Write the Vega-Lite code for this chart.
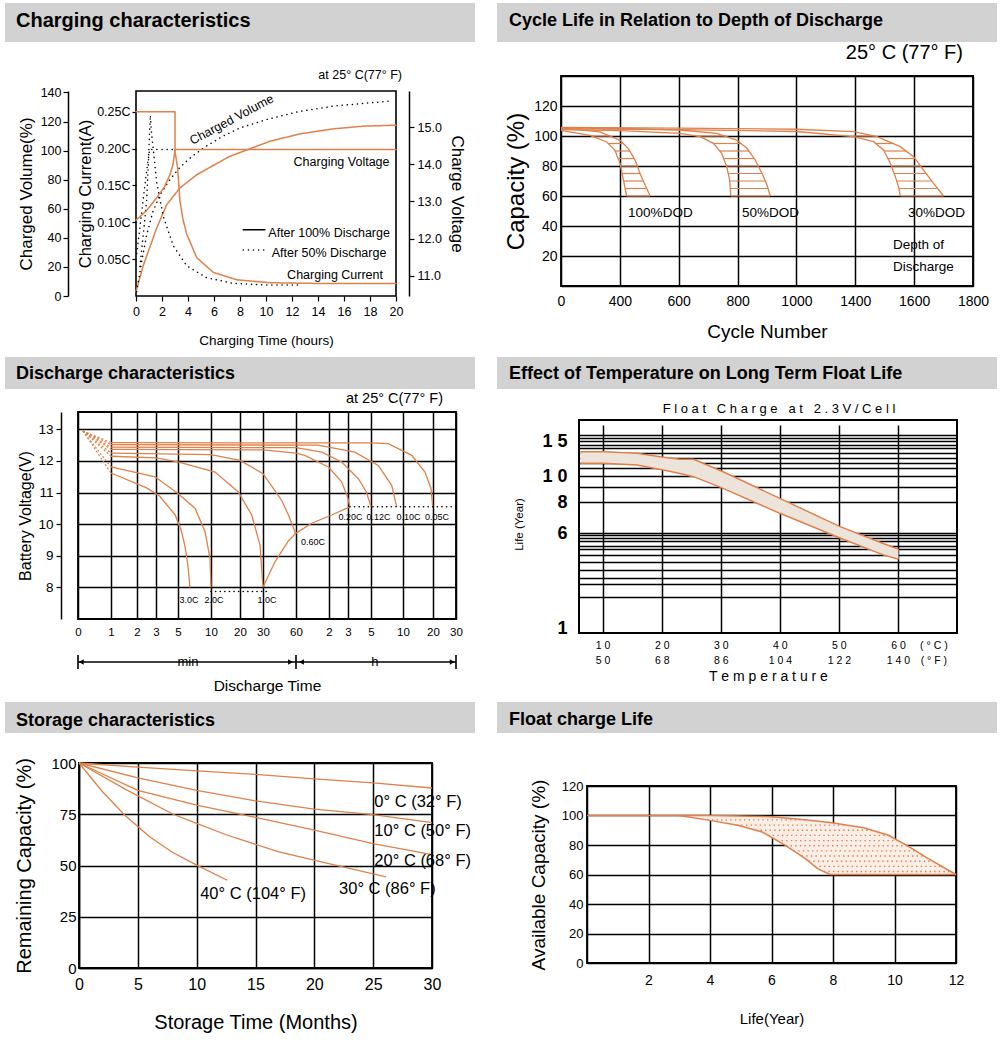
{
 "$schema": "https://vega.github.io/schema/vega-lite/v6.json",
 "padding": {"left": 5, "top": 3, "right": 0, "bottom": 0},
 "background": "#ffffff",
 "config": {
  "font": "Liberation Sans",
  "view": {"stroke": null},
  "axis": {"labelColor": "#000", "titleColor": "#000", "domainColor": "#000", "tickColor": "#000", "gridColor": "#000", "titleFontWeight": "normal", "gridWidth": 1.5, "domainWidth": 1.5, "tickWidth": 1.2, "labelFlush": false, "labelOverlap": false},
  "title": {"color": "#000", "fontWeight": "normal"},
  "text": {"color": "#000"}
 },
 "spacing": 0,
 "vconcat": [
  {"hconcat": [
   {"vconcat": [
    {"width": 470, "height": 39, "data": {"values": []}, "mark": "point", "view": {"fill": "#d2d2d2", "stroke": null},
     "title": {"text": "Charging characteristics", "anchor": "start", "frame": "group", "baseline": "alphabetic", "offset": -44, "dx": 11, "fontSize": 20, "fontWeight": "bold"}},
    {"hconcat": [
     {"width": 131, "height": 266, "data": {"values": []}, "mark": "point"},
     {"width": 260, "height": 205,
      "view": {"stroke": "#000", "strokeWidth": 1.6},
      "title": {"text": "at 25° C(77° F)", "anchor": "end", "frame": "group", "fontSize": 12.5, "baseline": "alphabetic", "offset": -5, "dx": 6},
      "resolve": {"scale": {"y": "independent"}, "axis": {"y": "independent"}},
      "encoding": {
       "x": {"field": "t", "type": "quantitative", "title": "Charging Time (hours)", "scale": {"domain": [0, 20], "nice": false}, "axis": {"values": [0, 2, 4, 6, 8, 10, 12, 14, 16, 18, 20], "labelOverlap": false, "grid": false, "domain": false, "tickSize": 5, "labelFontSize": 12.5, "labelPadding": 4, "titleFontSize": 13.5, "titlePadding": 16}}
      },
      "layer": [
       {"data": {"values": [
         {"d": "100%", "t": 0, "vol": 3}, {"d": "100%", "t": 0.56, "vol": 21}, {"d": "100%", "t": 1.59, "vol": 46.7}, {"d": "100%", "t": 2.36, "vol": 62.8}, {"d": "100%", "t": 3.38, "vol": 74.3}, {"d": "100%", "t": 4.67, "vol": 83.4}, {"d": "100%", "t": 7.2, "vol": 96}, {"d": "100%", "t": 10.3, "vol": 106.4}, {"d": "100%", "t": 12.6, "vol": 111.5}, {"d": "100%", "t": 15.2, "vol": 115}, {"d": "100%", "t": 17.5, "vol": 116.8}, {"d": "100%", "t": 20, "vol": 117.5},
         {"d": "50%", "t": 0.05, "vol": 3}, {"d": "50%", "t": 0.4, "vol": 22}, {"d": "50%", "t": 0.82, "vol": 42}, {"d": "50%", "t": 1.3, "vol": 58}, {"d": "50%", "t": 1.85, "vol": 69.7}, {"d": "50%", "t": 2.6, "vol": 80}, {"d": "50%", "t": 3.4, "vol": 88.7}, {"d": "50%", "t": 4.3, "vol": 96}, {"d": "50%", "t": 5.4, "vol": 103}, {"d": "50%", "t": 6.7, "vol": 110}, {"d": "50%", "t": 8, "vol": 115.6}, {"d": "50%", "t": 10.05, "vol": 121.4}, {"d": "50%", "t": 12.6, "vol": 127}, {"d": "50%", "t": 15.2, "vol": 130.6}, {"d": "50%", "t": 17.5, "vol": 132.5}, {"d": "50%", "t": 19.5, "vol": 134}]},
        "mark": {"type": "line", "strokeWidth": 1.5, "strokeCap": "round"},
        "encoding": {
         "y": {"field": "vol", "type": "quantitative", "title": "Charged Volume(%)", "scale": {"domain": [0, 141], "nice": false}, "axis": {"orient": "left", "offset": 68, "values": [0, 20, 40, 60, 80, 100, 120, 140], "labelOverlap": false, "grid": false, "tickSize": 5, "labelFontSize": 12.5, "labelPadding": 2, "titleFontSize": 17, "titlePadding": 5}},
         "color": {"field": "d", "type": "nominal", "scale": {"domain": ["100%", "50%"], "range": ["#e0804a", "#000000"]}, "legend": null},
         "strokeDash": {"field": "d", "type": "nominal", "scale": {"domain": ["100%", "50%"], "range": [[1, 0], [0.1, 5]]}, "legend": null},
         "order": {"value": null}}},
       {"data": {"values": [
         {"d": "100%", "t": 0, "cur": 0.25}, {"d": "100%", "t": 3, "cur": 0.25}, {"d": "100%", "t": 3, "cur": 0.196}, {"d": "100%", "t": 3.2, "cur": 0.174}, {"d": "100%", "t": 3.38, "cur": 0.129}, {"d": "100%", "t": 3.6, "cur": 0.105}, {"d": "100%", "t": 3.9, "cur": 0.084}, {"d": "100%", "t": 4.67, "cur": 0.052}, {"d": "100%", "t": 5.95, "cur": 0.032}, {"d": "100%", "t": 7.75, "cur": 0.022}, {"d": "100%", "t": 10.3, "cur": 0.018}, {"d": "100%", "t": 14, "cur": 0.017}, {"d": "100%", "t": 20, "cur": 0.017},
         {"d": "50%", "t": 0.3, "cur": 0.04}, {"d": "50%", "t": 0.6, "cur": 0.09}, {"d": "50%", "t": 0.82, "cur": 0.13}, {"d": "50%", "t": 0.95, "cur": 0.18}, {"d": "50%", "t": 1.1, "cur": 0.245}, {"d": "50%", "t": 1.2, "cur": 0.22}, {"d": "50%", "t": 1.33, "cur": 0.199}, {"d": "50%", "t": 1.59, "cur": 0.154}, {"d": "50%", "t": 2.1, "cur": 0.108}, {"d": "50%", "t": 2.87, "cur": 0.068}, {"d": "50%", "t": 3.9, "cur": 0.041}, {"d": "50%", "t": 5.4, "cur": 0.025}, {"d": "50%", "t": 7.5, "cur": 0.017}, {"d": "50%", "t": 10, "cur": 0.015}, {"d": "50%", "t": 12.6, "cur": 0.015}]},
        "mark": {"type": "line", "strokeWidth": 1.5, "strokeCap": "round"},
        "encoding": {
         "y": {"field": "cur", "type": "quantitative", "title": "Charging Current(A)", "scale": {"domain": [0, 0.278], "nice": false}, "axis": {"orient": "left", "offset": 0, "values": [0.05, 0.1, 0.15, 0.2, 0.25], "labelOverlap": false, "labelExpr": "format(datum.value, '.2f') + 'C'", "grid": false, "domain": false, "tickSize": 4, "labelFontSize": 12.5, "labelPadding": 2, "titleFontSize": 16.5, "titlePadding": 3}},
         "color": {"field": "d", "type": "nominal", "legend": null},
         "strokeDash": {"field": "d", "type": "nominal", "legend": null},
         "order": {"value": null}}},
       {"data": {"values": [
         {"d": "100%", "t": 0, "volt": 12.5}, {"d": "100%", "t": 0.8, "volt": 12.75}, {"d": "100%", "t": 1.59, "volt": 13.1}, {"d": "100%", "t": 2.2, "volt": 13.4}, {"d": "100%", "t": 2.62, "volt": 13.73}, {"d": "100%", "t": 2.85, "volt": 14.0}, {"d": "100%", "t": 3, "volt": 14.4}, {"d": "100%", "t": 20, "volt": 14.4},
         {"d": "50%", "t": 0.05, "volt": 11.6}, {"d": "50%", "t": 0.3, "volt": 12.3}, {"d": "50%", "t": 0.6, "volt": 13.2}, {"d": "50%", "t": 0.85, "volt": 13.9}, {"d": "50%", "t": 1.05, "volt": 14.4}, {"d": "50%", "t": 3, "volt": 14.4}]},
        "mark": {"type": "line", "strokeWidth": 1.5, "strokeCap": "round"},
        "encoding": {
         "y": {"field": "volt", "type": "quantitative", "title": "Charge Voltage", "scale": {"domain": [10.46, 15.97], "nice": false, "zero": false}, "axis": {"orient": "right", "offset": 13, "values": [11, 12, 13, 14, 15], "labelOverlap": false, "format": ".1f", "grid": false, "tickSize": 5, "labelFontSize": 12.5, "labelPadding": 3, "titleFontSize": 17, "titlePadding": 6}},
         "color": {"field": "d", "type": "nominal", "legend": null},
         "strokeDash": {"field": "d", "type": "nominal", "legend": null},
         "order": {"value": null}}},
       {"data": {"values": [{"d": "100%", "t": 8.25, "t2": 9.92, "vol": 45.5}, {"d": "50%", "t": 8.25, "t2": 9.92, "vol": 31.7}]},
        "mark": {"type": "rule", "color": "#000", "strokeWidth": 1.5, "strokeCap": "round"},
        "encoding": {
         "x2": {"field": "t2"},
         "y": {"field": "vol", "type": "quantitative", "scale": {"domain": [0, 141], "nice": false}, "axis": null},
         "strokeDash": {"field": "d", "type": "nominal", "legend": null}}},
       {"data": {"values": [{"s": "After 100% Discharge", "t": 10.18, "vol": 43.4}, {"s": "After 50% Discharge", "t": 10.44, "vol": 29.4}]},
        "mark": {"type": "text", "align": "left", "baseline": "middle", "fontSize": 12.5},
        "encoding": {"y": {"field": "vol", "type": "quantitative", "scale": {"domain": [0, 141], "nice": false}, "axis": null}, "text": {"field": "s"}}},
       {"data": {"values": [{"s": "Charging Voltage", "t": 19.5, "vol": 92.4}, {"s": "Charging Current", "t": 19.0, "vol": 14.5}]},
        "mark": {"type": "text", "align": "right", "baseline": "middle", "fontSize": 12.5},
        "encoding": {"y": {"field": "vol", "type": "quantitative", "scale": {"domain": [0, 141], "nice": false}, "axis": null}, "text": {"field": "s"}}},
       {"data": {"values": [{"s": "Charged Volume", "t": 7.36, "vol": 121.4}]},
        "mark": {"type": "text", "align": "center", "baseline": "middle", "fontSize": 12.5, "angle": -28},
        "encoding": {"y": {"field": "vol", "type": "quantitative", "scale": {"domain": [0, 141], "nice": false}, "axis": null}, "text": {"field": "s"}}}
      ]}
    ], "spacing": 0, "bounds": "flush"}
   ], "spacing": 49, "bounds": "flush"},
   {"vconcat": [
    {"width": 500, "height": 39, "data": {"values": []}, "mark": "point", "view": {"fill": "#d2d2d2", "stroke": null},
     "title": {"text": "Cycle Life in Relation to Depth of Discharge", "anchor": "start", "frame": "group", "baseline": "alphabetic", "offset": -41, "dx": 12, "fontSize": 18, "fontWeight": "bold"}},
    {"hconcat": [
     {"width": 64, "height": 10, "data": {"values": []}, "mark": "point"},
     {"width": 412, "height": 210,
      "view": {"stroke": "#000", "strokeWidth": 1.8},
      "title": {"text": "25° C (77° F)", "anchor": "end", "frame": "group", "fontSize": 20, "baseline": "alphabetic", "offset": -10, "dx": -10},
      "encoding": {
       "x": {"field": "n", "type": "quantitative", "title": "Cycle Number", "scale": {"type": "linear", "domain": [0, 400, 600, 800, 1000, 1400, 1600, 1800], "range": [0, 58.86, 117.71, 176.57, 235.43, 294.29, 353.14, 412], "nice": false, "zero": false}, "axis": {"values": [0, 400, 600, 800, 1000, 1400, 1600, 1800], "format": "d", "labelOverlap": false, "grid": true, "domain": false, "ticks": false, "labelFontSize": 14, "labelPadding": 8, "titleFontSize": 19, "titlePadding": 14}},
       "y": {"field": "cap", "type": "quantitative", "title": "Capacity  (%)", "scale": {"domain": [0, 140], "nice": false}, "axis": {"values": [0, 20, 40, 60, 80, 100, 120, 140], "labelOverlap": false, "labelExpr": "datum.value == 0 || datum.value == 140 ? '' : datum.label", "grid": true, "domain": false, "ticks": false, "labelFontSize": 14, "labelPadding": 4, "titleFontSize": 24, "titlePadding": 5}}
      },
      "layer": [
       {"data": {"values": [
         {"k": "1L", "n": 0, "cap": 103.8}, {"k": "1L", "n": 197, "cap": 100.4}, {"k": "1L", "n": 311, "cap": 96}, {"k": "1L", "n": 367, "cap": 90.4}, {"k": "1L", "n": 401, "cap": 81.6}, {"k": "1L", "n": 410, "cap": 72.7}, {"k": "1L", "n": 418, "cap": 65}, {"k": "1L", "n": 423, "cap": 60},
         {"k": "1R", "n": 0, "cap": 105.3}, {"k": "1R", "n": 265, "cap": 102.7}, {"k": "1R", "n": 401, "cap": 97.1}, {"k": "1R", "n": 429, "cap": 91.6}, {"k": "1R", "n": 452, "cap": 83.8}, {"k": "1R", "n": 469, "cap": 74.9}, {"k": "1R", "n": 486, "cap": 67.1}, {"k": "1R", "n": 503, "cap": 60},
         {"k": "2L", "n": 0, "cap": 104.3}, {"k": "2L", "n": 400, "cap": 103.6}, {"k": "2L", "n": 605, "cap": 101.8}, {"k": "2L", "n": 673, "cap": 99.6}, {"k": "2L", "n": 718, "cap": 95.1}, {"k": "2L", "n": 746, "cap": 88.4}, {"k": "2L", "n": 763, "cap": 79.6}, {"k": "2L", "n": 773, "cap": 70.7}, {"k": "2L", "n": 777, "cap": 60},
         {"k": "2R", "n": 0, "cap": 105.5}, {"k": "2R", "n": 400, "cap": 105}, {"k": "2R", "n": 605, "cap": 104}, {"k": "2R", "n": 729, "cap": 101.8}, {"k": "2R", "n": 797, "cap": 97.3}, {"k": "2R", "n": 832, "cap": 91.8}, {"k": "2R", "n": 860, "cap": 84}, {"k": "2R", "n": 883, "cap": 75.1}, {"k": "2R", "n": 900, "cap": 67.3}, {"k": "2R", "n": 911, "cap": 60},
         {"k": "3L", "n": 0, "cap": 104.8}, {"k": "3L", "n": 600, "cap": 104.3}, {"k": "3L", "n": 1000, "cap": 103}, {"k": "3L", "n": 1389, "cap": 99.6}, {"k": "3L", "n": 1462, "cap": 96.2}, {"k": "3L", "n": 1496, "cap": 90.7}, {"k": "3L", "n": 1519, "cap": 81.8}, {"k": "3L", "n": 1536, "cap": 72.9}, {"k": "3L", "n": 1547, "cap": 66.2}, {"k": "3L", "n": 1553, "cap": 60},
         {"k": "3R", "n": 0, "cap": 105.8}, {"k": "3R", "n": 600, "cap": 105.3}, {"k": "3R", "n": 1000, "cap": 104.5}, {"k": "3R", "n": 1389, "cap": 102.9}, {"k": "3R", "n": 1474, "cap": 99.6}, {"k": "3R", "n": 1553, "cap": 92.9}, {"k": "3R", "n": 1598, "cap": 86.2}, {"k": "3R", "n": 1632, "cap": 77.3}, {"k": "3R", "n": 1666, "cap": 68.4}, {"k": "3R", "n": 1700, "cap": 60}]},
        "mark": {"type": "line", "color": "#e0804a", "strokeWidth": 1.3},
        "encoding": {"detail": {"field": "k"}}},
       {"data": {"values": [
         {"n": 207, "n2": 330, "cap": 100}, {"n": 321, "n2": 412, "cap": 95}, {"n": 369, "n2": 434, "cap": 90}, {"n": 388, "n2": 449, "cap": 85}, {"n": 403, "n2": 459, "cap": 80}, {"n": 408, "n2": 469, "cap": 75}, {"n": 413, "n2": 480, "cap": 70}, {"n": 418, "n2": 491, "cap": 65}, {"n": 423, "n2": 503, "cap": 60},
         {"n": 661, "n2": 756, "cap": 100}, {"n": 718, "n2": 812, "cap": 95}, {"n": 739, "n2": 839, "cap": 90}, {"n": 753, "n2": 856, "cap": 85}, {"n": 762, "n2": 870, "cap": 80}, {"n": 768, "n2": 883, "cap": 75}, {"n": 773, "n2": 894, "cap": 70}, {"n": 775, "n2": 904, "cap": 65}, {"n": 777, "n2": 911, "cap": 60},
         {"n": 1385, "n2": 1464, "cap": 100}, {"n": 1469, "n2": 1528, "cap": 95}, {"n": 1498, "n2": 1573, "cap": 90}, {"n": 1511, "n2": 1603, "cap": 85}, {"n": 1522, "n2": 1622, "cap": 80}, {"n": 1532, "n2": 1641, "cap": 75}, {"n": 1541, "n2": 1660, "cap": 70}, {"n": 1548, "n2": 1680, "cap": 65}, {"n": 1553, "n2": 1700, "cap": 60}]},
        "mark": {"type": "rule", "color": "#e0804a", "strokeWidth": 1.2},
        "encoding": {"x2": {"field": "n2"}}},
       {"data": {"values": [{"s": "100%DOD", "n": 428, "cap": 48.7}, {"s": "50%DOD", "n": 815, "cap": 48.7}, {"s": "30%DOD", "n": 1579, "cap": 48.7}, {"s": "Depth of", "n": 1528, "cap": 27.3}, {"s": "Discharge", "n": 1528, "cap": 12.7}]},
        "mark": {"type": "text", "align": "left", "baseline": "middle", "fontSize": 13.5},
        "encoding": {"text": {"field": "s"}}}
      ]}
    ], "spacing": 0, "bounds": "flush"}
   ], "spacing": 34, "bounds": "flush"}
  ], "spacing": 22},
  {"hconcat": [
   {"vconcat": [
    {"width": 470, "height": 32, "data": {"values": []}, "mark": "point", "view": {"fill": "#d2d2d2", "stroke": null},
     "title": {"text": "Discharge characteristics", "anchor": "start", "frame": "group", "baseline": "alphabetic", "offset": -40, "dx": 11, "fontSize": 18, "fontWeight": "bold"}},
    {"hconcat": [
     {"width": 73, "height": 290, "data": {"values": []}, "mark": "point"},
     {"vconcat": [
      {"width": 378, "height": 207,
       "view": {"stroke": "#000", "strokeWidth": 1.8},
       "title": {"text": "at 25° C(77° F)", "anchor": "end", "frame": "group", "fontSize": 14.5, "baseline": "alphabetic", "offset": -5, "dx": -13},
       "encoding": {
        "x": {"field": "m", "type": "quantitative", "title": null, "scale": {"type": "linear", "domain": [0, 1, 2, 3, 5, 10, 20, 30, 60, 120, 180, 300, 600, 1200, 1800], "range": [0, 33, 59, 78, 100, 133, 162, 185, 218, 251, 270, 293, 325, 355, 378], "nice": false, "zero": false}, "axis": {"values": [0, 1, 2, 3, 5, 10, 20, 30, 60, 120, 180, 300, 600, 1200, 1800], "labelOverlap": false, "labelExpr": "datum.value > 60 ? '' + datum.value / 60 : '' + datum.value", "grid": true, "domain": false, "ticks": false, "labelFontSize": 11.5, "labelPadding": 7}},
        "y": {"field": "v", "type": "quantitative", "title": "Battery Voltage(V)", "scale": {"domain": [7, 13.55], "nice": false, "zero": false}, "axis": {"values": [8, 9, 10, 11, 12, 13], "labelOverlap": false, "offset": 17, "grid": true, "domain": true, "ticks": true, "tickSize": 5, "labelFontSize": 13.5, "labelPadding": 3, "titleFontSize": 16, "titlePadding": 4}}
       },
       "layer": [
        {"data": {"values": [
          {"r": "3.0C", "m": 1, "v": 11.62}, {"r": "3.0C", "m": 2.5, "v": 11.15}, {"r": "3.0C", "m": 3.3, "v": 10.9}, {"r": "3.0C", "m": 4.73, "v": 10.3}, {"r": "3.0C", "m": 5.5, "v": 9.8}, {"r": "3.0C", "m": 6.06, "v": 9.3}, {"r": "3.0C", "m": 6.5, "v": 8.7}, {"r": "3.0C", "m": 6.82, "v": 8.0},
          {"r": "2.0C", "m": 1, "v": 11.81}, {"r": "2.0C", "m": 2.95, "v": 11.5}, {"r": "2.0C", "m": 5, "v": 10.97}, {"r": "2.0C", "m": 7.6, "v": 10.5}, {"r": "2.0C", "m": 9.1, "v": 9.76}, {"r": "2.0C", "m": 9.85, "v": 8.92}, {"r": "2.0C", "m": 10, "v": 8.0},
          {"r": "1.0C", "m": 1, "v": 12.15}, {"r": "1.0C", "m": 3, "v": 12.1}, {"r": "1.0C", "m": 5, "v": 11.97}, {"r": "1.0C", "m": 11.4, "v": 11.65}, {"r": "1.0C", "m": 19.4, "v": 11.02}, {"r": "1.0C", "m": 25.1, "v": 10.29}, {"r": "1.0C", "m": 28.7, "v": 9.34}, {"r": "1.0C", "m": 30, "v": 8.0},
          {"r": "0.60C", "m": 1, "v": 12.25}, {"r": "0.60C", "m": 10, "v": 12.2}, {"r": "0.60C", "m": 20, "v": 12.02}, {"r": "0.60C", "m": 30, "v": 11.6}, {"r": "0.60C", "m": 40, "v": 11.1}, {"r": "0.60C", "m": 47, "v": 10.75}, {"r": "0.60C", "m": 53, "v": 10.3}, {"r": "0.60C", "m": 57, "v": 9.95}, {"r": "0.60C", "m": 59.7, "v": 9.7},
          {"r": "0.20C", "m": 1, "v": 12.37}, {"r": "0.20C", "m": 30, "v": 12.35}, {"r": "0.20C", "m": 60, "v": 12.25}, {"r": "0.20C", "m": 76, "v": 12.18}, {"r": "0.20C", "m": 119, "v": 11.81}, {"r": "0.20C", "m": 160, "v": 11.34}, {"r": "0.20C", "m": 180, "v": 10.81}, {"r": "0.20C", "m": 190, "v": 10.55},
          {"r": "0.12C", "m": 1, "v": 12.44}, {"r": "0.12C", "m": 60, "v": 12.42}, {"r": "0.12C", "m": 107, "v": 12.28}, {"r": "0.12C", "m": 160, "v": 11.97}, {"r": "0.12C", "m": 234, "v": 11.44}, {"r": "0.12C", "m": 276, "v": 11.02}, {"r": "0.12C", "m": 300, "v": 10.55},
          {"r": "0.10C", "m": 1, "v": 12.52}, {"r": "0.10C", "m": 100, "v": 12.5}, {"r": "0.10C", "m": 216, "v": 12.28}, {"r": "0.10C", "m": 368, "v": 11.86}, {"r": "0.10C", "m": 494, "v": 11.23}, {"r": "0.10C", "m": 541, "v": 10.55},
          {"r": "0.05C", "m": 1, "v": 12.58}, {"r": "0.05C", "m": 300, "v": 12.57}, {"r": "0.05C", "m": 462, "v": 12.55}, {"r": "0.05C", "m": 774, "v": 12.18}, {"r": "0.05C", "m": 1040, "v": 11.65}, {"r": "0.05C", "m": 1160, "v": 11.13}, {"r": "0.05C", "m": 1194, "v": 10.55},
          {"r": "end", "m": 30.3, "v": 8.03}, {"r": "end", "m": 40.9, "v": 8.81}, {"r": "end", "m": 52.5, "v": 9.44}, {"r": "end", "m": 59.7, "v": 9.71}, {"r": "end", "m": 88.5, "v": 10.03}, {"r": "end", "m": 128.5, "v": 10.29}, {"r": "end", "m": 190, "v": 10.55}]},
         "mark": {"type": "line", "color": "#e0804a", "strokeWidth": 1.3},
         "encoding": {"detail": {"field": "r"}}},
        {"data": {"values": [
          {"r": "3.0C", "m": 0.15, "v": 12.95}, {"r": "3.0C", "m": 1, "v": 11.62}, {"r": "2.0C", "m": 0.15, "v": 12.95}, {"r": "2.0C", "m": 1, "v": 11.81}, {"r": "1.0C", "m": 0.15, "v": 12.95}, {"r": "1.0C", "m": 1, "v": 12.15}, {"r": "0.60C", "m": 0.15, "v": 12.95}, {"r": "0.60C", "m": 1, "v": 12.25},
          {"r": "0.20C", "m": 0.15, "v": 12.95}, {"r": "0.20C", "m": 1, "v": 12.37}, {"r": "0.12C", "m": 0.15, "v": 12.95}, {"r": "0.12C", "m": 1, "v": 12.44}, {"r": "0.10C", "m": 0.15, "v": 12.95}, {"r": "0.10C", "m": 1, "v": 12.52}, {"r": "0.05C", "m": 0.15, "v": 12.95}, {"r": "0.05C", "m": 1, "v": 12.58}]},
         "mark": {"type": "line", "color": "#e0804a", "strokeWidth": 1.2, "strokeDash": [2, 2]},
         "encoding": {"detail": {"field": "r"}}},
        {"data": {"values": [{"g": "a", "m": 190, "v": 10.55}, {"g": "a", "m": 1800, "v": 10.55}, {"g": "b", "m": 10, "v": 7.87}, {"g": "b", "m": 37, "v": 7.87}]},
         "mark": {"type": "line", "color": "#000", "strokeWidth": 1.6, "strokeDash": [0.1, 4.5], "strokeCap": "round"},
         "encoding": {"detail": {"field": "g"}}},
        {"data": {"values": [{"s": "3.0C", "m": 6.67, "v": 7.6}, {"s": "2.0C", "m": 11, "v": 7.6}, {"s": "1.0C", "m": 33.6, "v": 7.6}, {"s": "0.60C", "m": 91, "v": 9.44}, {"s": "0.20C", "m": 193, "v": 10.23}, {"s": "0.12C", "m": 370, "v": 10.23}, {"s": "0.10C", "m": 710, "v": 10.23}, {"s": "0.05C", "m": 1304, "v": 10.23}]},
         "mark": {"type": "text", "baseline": "middle", "fontSize": 9},
         "encoding": {"text": {"field": "s"}}}
       ]},
      {"width": 378, "height": 14,
       "encoding": {
        "x": {"field": "a", "type": "quantitative", "title": "Discharge Time", "scale": {"type": "linear", "domain": [0, 1, 2, 3, 5, 10, 20, 30, 60, 120, 180, 300, 600, 1200, 1800], "range": [0, 33, 59, 78, 100, 133, 162, 185, 218, 251, 270, 293, 325, 355, 378], "nice": false, "zero": false}, "axis": {"labels": false, "ticks": false, "domain": false, "grid": false, "titleFontSize": 15.5, "titlePadding": 9}},
        "y": {"field": "lv", "type": "quantitative", "scale": {"domain": [-1, 1]}, "axis": null}
       },
       "layer": [
        {"data": {"values": [{"a": 0, "b": 60, "lv": 0}, {"a": 60, "b": 1800, "lv": 0}]},
         "mark": {"type": "rule", "color": "#000", "strokeWidth": 1.3},
         "encoding": {"x2": {"field": "b"}}},
        {"data": {"values": [{"a": 0, "lv": -1, "lv2": 1}, {"a": 60, "lv": -1, "lv2": 1}, {"a": 1800, "lv": -1, "lv2": 1}]},
         "mark": {"type": "rule", "color": "#000", "strokeWidth": 1.6},
         "encoding": {"y2": {"field": "lv2"}}},
        {"data": {"values": [{"a": 0.1, "lv": 0, "sh": "triangle-left"}, {"a": 55, "lv": 0, "sh": "triangle-right"}, {"a": 70, "lv": 0, "sh": "triangle-left"}, {"a": 1700, "lv": 0, "sh": "triangle-right"}]},
         "mark": {"type": "point", "filled": true, "color": "#000", "size": 30, "opacity": 1},
         "encoding": {"shape": {"field": "sh", "type": "nominal", "scale": null}}},
        {"data": {"values": [{"a": 6.5, "lv": 0, "s": "min"}, {"a": 337, "lv": 0, "s": "h"}]},
         "mark": {"type": "text", "baseline": "middle", "fontSize": 13},
         "encoding": {"text": {"field": "s"}}}
       ]}
     ], "spacing": 36, "bounds": "flush"}
    ], "spacing": 0, "bounds": "flush"}
   ], "spacing": 23, "bounds": "flush"},
   {"vconcat": [
    {"width": 500, "height": 32, "data": {"values": []}, "mark": "point", "view": {"fill": "#d2d2d2", "stroke": null},
     "title": {"text": "Effect of Temperature on Long Term Float Life", "anchor": "start", "frame": "group", "baseline": "alphabetic", "offset": -40, "dx": 12, "fontSize": 18, "fontWeight": "bold"}},
    {"hconcat": [
     {"width": 82, "height": 10, "data": {"values": []}, "mark": "point"},
     {"width": 378, "height": 213,
      "view": {"stroke": "#000", "strokeWidth": 2},
      "title": {"text": "F l o a t \u00a0 C h a r g e \u00a0 a t \u00a0 2 . 3 V / C e l l", "anchor": "middle", "frame": "group", "fontSize": 13, "baseline": "alphabetic", "offset": -6, "dx": 11},
      "encoding": {
       "x": {"field": "c", "type": "quantitative", "title": "T e m p e r a t u r e", "scale": {"domain": [6, 70], "nice": false, "zero": false}, "axis": {"values": [10, 20, 30, 40, 50, 60, 66], "labelOverlap": false, "labelExpr": "datum.value == 66 ? ['( ° C )', '( ° F )'] : [join(split(datum.label, ''), ' '), join(split('' + (datum.value * 1.8 + 32), ''), ' ')]", "grid": true, "gridOpacity": {"condition": {"test": "datum.value == 66", "value": 0}, "value": 1}, "domain": false, "ticks": false, "labelFontSize": 10.5, "labelLineHeight": 15, "labelPadding": 7, "titleFontSize": 14, "titlePadding": 4}},
       "y": {"field": "y", "type": "quantitative", "title": "Life (Year)", "scale": {"type": "linear", "domain": [1, 6, 8, 10, 15, 20], "range": [208, 113, 82, 56, 21, 0], "nice": false, "zero": false}, "axis": {"values": [1, 2.65, 3.32, 3.65, 4.07, 4.49, 4.82, 5.15, 5.32, 5.57, 5.74, 5.9, 6, 8, 9.18, 10, 11.1, 11.81, 12.53, 13.24, 13.96, 14.43, 15, 15.64, 16.43], "labelOverlap": false, "labelExpr": "indexof([1, 6, 8, 10, 15], datum.value) >= 0 ? join(split(datum.label, ''), ' ') : ''", "grid": true, "gridOpacity": {"condition": {"test": "datum.value == 1", "value": 0}, "value": 1}, "domain": false, "ticks": false, "labelFontSize": 18, "labelFontWeight": "bold", "labelPadding": 12, "titleFontSize": 11.5, "titlePadding": 17}}
      },
      "layer": [
       {"data": {"values": [
         {"c": 6.2, "y": 11.81, "y2": 13.47}, {"c": 10.1, "y": 11.81, "y2": 13.47}, {"c": 15.8, "y": 11.57, "y2": 13.24}, {"c": 20.3, "y": 10.86, "y2": 12.67}, {"c": 23.1, "y": 10.36, "y2": 12.39}, {"c": 25.4, "y": 9.95, "y2": 12.39}, {"c": 30.4, "y": 9.05, "y2": 10.61}, {"c": 40, "y": 7.27, "y2": 8.28}, {"c": 50.2, "y": 5.74, "y2": 6.41}, {"c": 57.5, "y": 4.85, "y2": 5.45}, {"c": 60.1, "y": 4.62, "y2": 5.15}]},
        "mark": {"type": "area", "color": "#ece3da", "opacity": 1},
        "encoding": {"y2": {"field": "y2"}}},
       {"data": {"values": [
         {"k": "upper", "c": 6.2, "y": 13.47}, {"k": "upper", "c": 10.1, "y": 13.47}, {"k": "upper", "c": 15.8, "y": 13.24}, {"k": "upper", "c": 20.3, "y": 12.67}, {"k": "upper", "c": 23.1, "y": 12.39}, {"k": "upper", "c": 25.4, "y": 12.39}, {"k": "upper", "c": 30.4, "y": 10.61}, {"k": "upper", "c": 40, "y": 8.28}, {"k": "upper", "c": 50.2, "y": 6.41}, {"k": "upper", "c": 57.5, "y": 5.45}, {"k": "upper", "c": 60.1, "y": 5.15},
         {"k": "lower", "c": 6.2, "y": 11.81}, {"k": "lower", "c": 10.1, "y": 11.81}, {"k": "lower", "c": 15.8, "y": 11.57}, {"k": "lower", "c": 20.3, "y": 10.86}, {"k": "lower", "c": 23.1, "y": 10.36}, {"k": "lower", "c": 25.4, "y": 9.95}, {"k": "lower", "c": 30.4, "y": 9.05}, {"k": "lower", "c": 40, "y": 7.27}, {"k": "lower", "c": 50.2, "y": 5.74}, {"k": "lower", "c": 57.5, "y": 4.85}, {"k": "lower", "c": 60.1, "y": 4.62}]},
        "mark": {"type": "line", "color": "#e0804a", "strokeWidth": 1.5},
        "encoding": {"detail": {"field": "k"}}}
      ]}
    ], "spacing": 0, "bounds": "flush"}
   ], "spacing": 31, "bounds": "flush"}
  ], "spacing": 22},
  {"hconcat": [
   {"vconcat": [
    {"width": 470, "height": 31, "data": {"values": []}, "mark": "point", "view": {"fill": "#d2d2d2", "stroke": null},
     "title": {"text": "Storage characteristics", "anchor": "start", "frame": "group", "baseline": "alphabetic", "offset": -42, "dx": 11, "fontSize": 18, "fontWeight": "bold"}},
    {"hconcat": [
     {"width": 74, "height": 10, "data": {"values": []}, "mark": "point"},
     {"width": 353, "height": 205,
      "view": {"stroke": "#000", "strokeWidth": 1.8},
      "encoding": {
       "x": {"field": "mo", "type": "quantitative", "title": "Storage Time (Months)", "scale": {"domain": [0, 30], "nice": false}, "axis": {"values": [0, 5, 10, 15, 20, 25, 30], "labelOverlap": false, "grid": true, "domain": true, "ticks": false, "labelFontSize": 16, "labelPadding": 8, "titleFontSize": 20, "titlePadding": 20}},
       "y": {"field": "cap", "type": "quantitative", "title": "Remaining Capacity (%)", "scale": {"domain": [0, 100], "nice": false}, "axis": {"values": [0, 25, 50, 75, 100], "labelOverlap": false, "grid": true, "domain": true, "ticks": false, "labelFontSize": 15, "labelPadding": 3, "titleFontSize": 20, "titlePadding": 16}}
      },
      "layer": [
       {"data": {"values": [
         {"tc": "0", "mo": 0, "cap": 100}, {"tc": "0", "mo": 5, "cap": 98}, {"tc": "0", "mo": 10, "cap": 96.2}, {"tc": "0", "mo": 15, "cap": 94.5}, {"tc": "0", "mo": 20, "cap": 92.3}, {"tc": "0", "mo": 25, "cap": 90.3}, {"tc": "0", "mo": 30, "cap": 87.8},
         {"tc": "10", "mo": 0, "cap": 100}, {"tc": "10", "mo": 5, "cap": 92.7}, {"tc": "10", "mo": 10, "cap": 86.7}, {"tc": "10", "mo": 15, "cap": 81.5}, {"tc": "10", "mo": 20, "cap": 77.5}, {"tc": "10", "mo": 25, "cap": 74.8}, {"tc": "10", "mo": 30, "cap": 70.9},
         {"tc": "20", "mo": 0, "cap": 100}, {"tc": "20", "mo": 5, "cap": 86.7}, {"tc": "20", "mo": 10, "cap": 79.4}, {"tc": "20", "mo": 15, "cap": 73.5}, {"tc": "20", "mo": 20, "cap": 67.2}, {"tc": "20", "mo": 25, "cap": 60.7}, {"tc": "20", "mo": 30, "cap": 55.3},
         {"tc": "30", "mo": 0, "cap": 100}, {"tc": "30", "mo": 4, "cap": 87}, {"tc": "30", "mo": 8, "cap": 75}, {"tc": "30", "mo": 10, "cap": 70.6}, {"tc": "30", "mo": 12.5, "cap": 65}, {"tc": "30", "mo": 17, "cap": 56.6}, {"tc": "30", "mo": 21.5, "cap": 50.5}, {"tc": "30", "mo": 26.1, "cap": 44.4},
         {"tc": "40", "mo": 0, "cap": 100}, {"tc": "40", "mo": 2, "cap": 86}, {"tc": "40", "mo": 3.9, "cap": 74.5}, {"tc": "40", "mo": 6, "cap": 64}, {"tc": "40", "mo": 7.9, "cap": 56.6}, {"tc": "40", "mo": 10, "cap": 50.2}, {"tc": "40", "mo": 12.6, "cap": 42.8}]},
        "mark": {"type": "line", "color": "#e0804a", "strokeWidth": 1.3},
        "encoding": {"detail": {"field": "tc"}}},
       {"data": {"values": [{"s": "0° C (32° F)", "mo": 25.1, "cap": 81}, {"s": "10° C (50° F)", "mo": 25.1, "cap": 66.6}, {"s": "20° C (68° F)", "mo": 25.1, "cap": 52.1}, {"s": "30° C (86° F)", "mo": 22.1, "cap": 38.4}, {"s": "40° C (104° F)", "mo": 10.3, "cap": 36}]},
        "mark": {"type": "text", "align": "left", "baseline": "middle", "fontSize": 16.5},
        "encoding": {"text": {"field": "s"}}}
      ]}
    ], "spacing": 0, "bounds": "flush"}
   ], "spacing": 30, "bounds": "flush"},
   {"vconcat": [
    {"width": 500, "height": 31, "data": {"values": []}, "mark": "point", "view": {"fill": "#d2d2d2", "stroke": null},
     "title": {"text": "Float charge Life", "anchor": "start", "frame": "group", "baseline": "alphabetic", "offset": -41, "dx": 12, "fontSize": 18, "fontWeight": "bold"}},
    {"hconcat": [
     {"width": 90, "height": 10, "data": {"values": []}, "mark": "point"},
     {"width": 369, "height": 177,
      "view": {"stroke": "#000", "strokeWidth": 1.8},
      "encoding": {
       "x": {"field": "yr", "type": "quantitative", "title": "Life(Year)", "scale": {"domain": [0, 12], "nice": false}, "axis": {"values": [0, 2, 4, 6, 8, 10, 12], "labelOverlap": false, "labelExpr": "datum.value == 0 ? '' : datum.label", "grid": true, "domain": false, "ticks": false, "labelFontSize": 14, "labelPadding": 10, "titleFontSize": 15, "titlePadding": 24}},
       "y": {"field": "cap", "type": "quantitative", "title": "Available Capacity (%)", "scale": {"domain": [0, 120], "nice": false}, "axis": {"values": [0, 20, 40, 60, 80, 100, 120], "labelOverlap": false, "grid": true, "domain": false, "ticks": false, "labelFontSize": 13, "labelPadding": 4, "titleFontSize": 19, "titlePadding": 13}}
      },
      "layer": [
       {"data": {"values": [
         {"yr": 3, "cap": 100, "cap2": 100}, {"yr": 4, "cap": 96.7, "cap2": 100}, {"yr": 4.9, "cap": 93.4, "cap2": 99.8}, {"yr": 5.7, "cap": 88.8, "cap2": 99.2}, {"yr": 6.45, "cap": 79.8, "cap2": 98.5}, {"yr": 7.1, "cap": 70.8, "cap2": 97}, {"yr": 7.9, "cap": 60, "cap2": 95.3}, {"yr": 9, "cap": 60, "cap2": 91.7}, {"yr": 9.8, "cap": 60, "cap2": 86.6}, {"yr": 10.4, "cap": 60, "cap2": 79.8}, {"yr": 11.1, "cap": 60, "cap2": 70.8}, {"yr": 12, "cap": 60, "cap2": 60}]},
        "mark": {"type": "area", "color": "#faeee6", "opacity": 1},
        "encoding": {"y2": {"field": "cap2"}}},
       {"data": {"values": [
         {"yr": 7.7, "yr2": 11.83, "cap": 62}, {"yr": 7.41, "yr2": 11.54, "cap": 65.5}, {"yr": 7.21, "yr2": 11.25, "cap": 69}, {"yr": 6.98, "yr2": 10.97, "cap": 72.5}, {"yr": 6.72, "yr2": 10.7, "cap": 76}, {"yr": 6.47, "yr2": 10.42, "cap": 79.5}, {"yr": 6.18, "yr2": 10.12, "cap": 83}, {"yr": 5.89, "yr2": 9.81, "cap": 86.5}, {"yr": 5.49, "yr2": 9.27, "cap": 90}, {"yr": 4.87, "yr2": 8.45, "cap": 93.5}, {"yr": 3.91, "yr2": 7.13, "cap": 97}]},
        "mark": {"type": "rule", "color": "#d9804f", "strokeWidth": 1.4, "strokeDash": [1.4, 3.2]},
        "encoding": {"x2": {"field": "yr2"}}},
       {"data": {"values": [
         {"k": "up", "yr": 0, "cap": 100}, {"k": "up", "yr": 2, "cap": 100}, {"k": "up", "yr": 4, "cap": 100}, {"k": "up", "yr": 6, "cap": 99.2}, {"k": "up", "yr": 7, "cap": 97.3}, {"k": "up", "yr": 7.9, "cap": 95.3}, {"k": "up", "yr": 9, "cap": 91.7}, {"k": "up", "yr": 9.8, "cap": 86.6}, {"k": "up", "yr": 10.4, "cap": 79.8}, {"k": "up", "yr": 11.1, "cap": 70.8}, {"k": "up", "yr": 12, "cap": 60},
         {"k": "low", "yr": 3, "cap": 100}, {"k": "low", "yr": 4, "cap": 96.7}, {"k": "low", "yr": 4.9, "cap": 93.4}, {"k": "low", "yr": 5.7, "cap": 88.8}, {"k": "low", "yr": 6.45, "cap": 79.8}, {"k": "low", "yr": 7.1, "cap": 70.8}, {"k": "low", "yr": 7.5, "cap": 64}, {"k": "low", "yr": 7.9, "cap": 60}, {"k": "low", "yr": 12, "cap": 60}]},
        "mark": {"type": "line", "color": "#e0804a", "strokeWidth": 1.5},
        "encoding": {"detail": {"field": "k"}}}
      ]}
    ], "spacing": 0, "bounds": "flush"}
   ], "spacing": 53, "bounds": "flush"}
  ], "spacing": 22}
 ]
}
